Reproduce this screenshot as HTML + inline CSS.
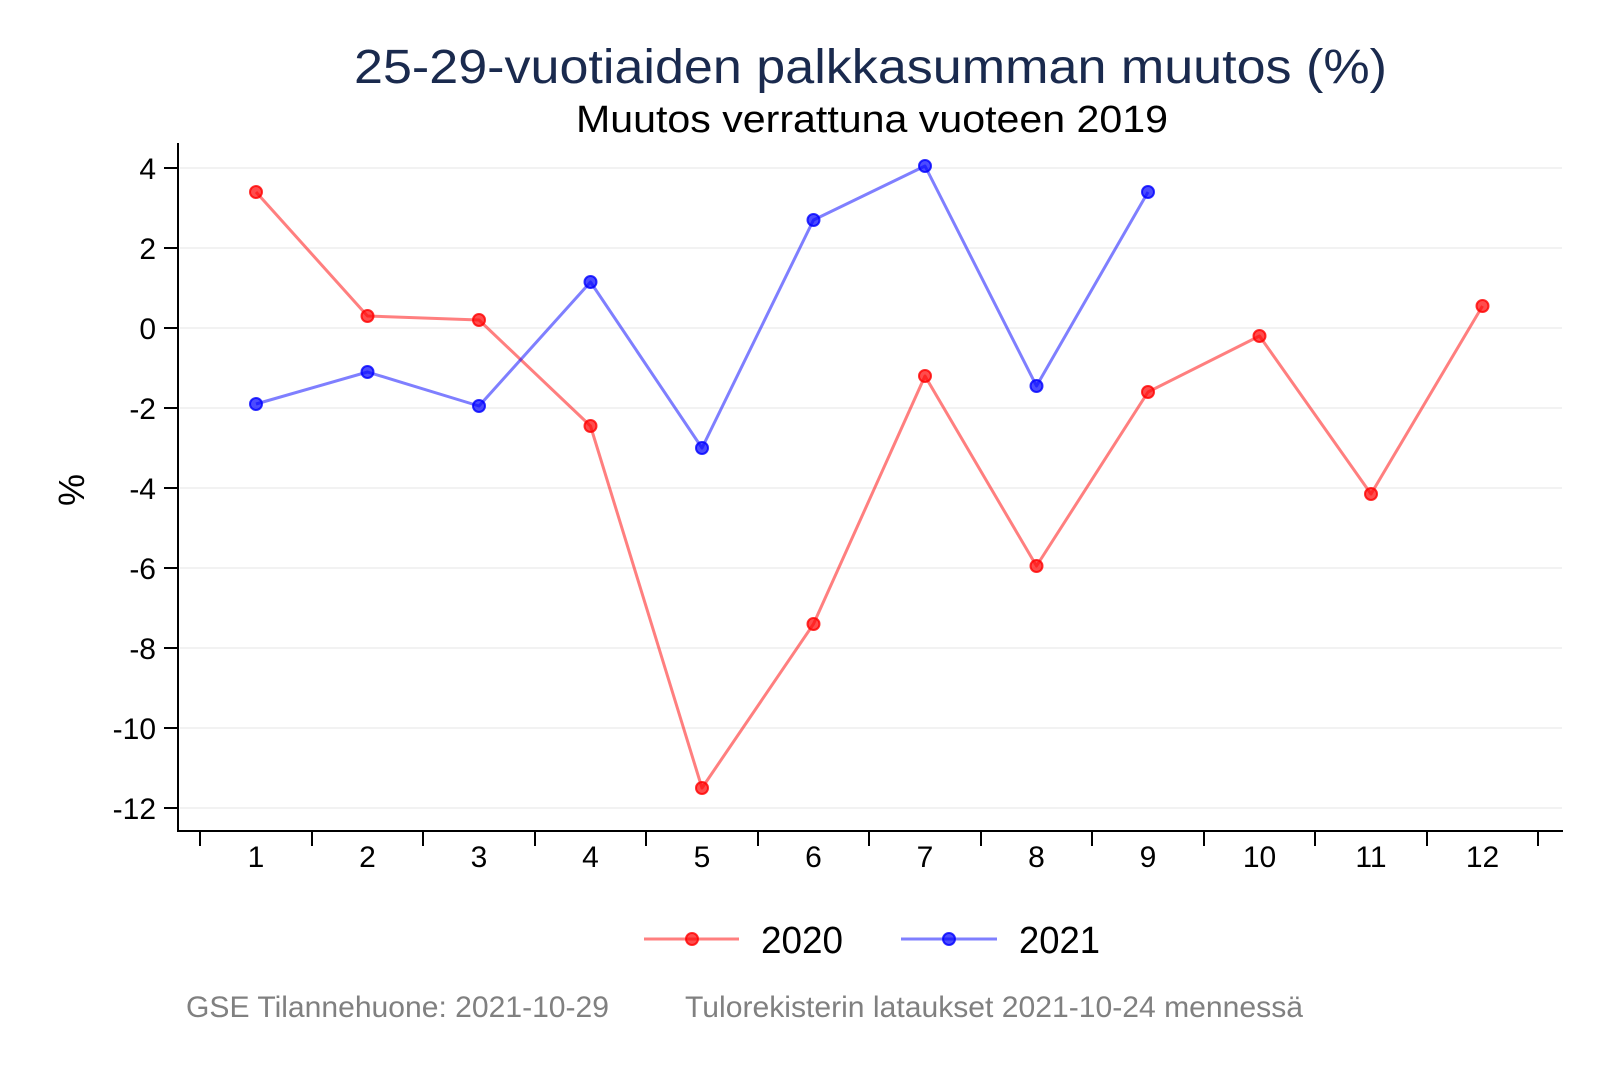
<!DOCTYPE html>
<html><head><meta charset="utf-8"><style>html,body{margin:0;padding:0;background:#fff}</style></head>
<body>
<svg width="1600" height="1067" xmlns="http://www.w3.org/2000/svg" font-family="Liberation Sans, Arial, sans-serif">
<rect width="1600" height="1067" fill="#fff"/>
<text x="354" y="83" font-size="48" fill="#1a2a4e" textLength="1033" lengthAdjust="spacingAndGlyphs">25-29-vuotiaiden palkkasumman muutos (%)</text>
<text x="576" y="132" font-size="38" fill="#000" textLength="592" lengthAdjust="spacingAndGlyphs">Muutos verrattuna vuoteen 2019</text>
<g stroke="#e6e6e6" stroke-width="1">
<line x1="180" x2="1562" y1="168" y2="168"/><line x1="180" x2="1562" y1="248" y2="248"/><line x1="180" x2="1562" y1="328" y2="328"/><line x1="180" x2="1562" y1="408" y2="408"/><line x1="180" x2="1562" y1="488" y2="488"/><line x1="180" x2="1562" y1="568" y2="568"/><line x1="180" x2="1562" y1="648" y2="648"/><line x1="180" x2="1562" y1="728" y2="728"/><line x1="180" x2="1562" y1="808" y2="808"/>
</g>
<g stroke="#000" stroke-width="2">
<line x1="178" y1="143" x2="178" y2="832"/>
<line x1="177" y1="831" x2="1563" y2="831"/>
<line x1="164" x2="178" y1="168" y2="168"/><line x1="164" x2="178" y1="248" y2="248"/><line x1="164" x2="178" y1="328" y2="328"/><line x1="164" x2="178" y1="408" y2="408"/><line x1="164" x2="178" y1="488" y2="488"/><line x1="164" x2="178" y1="568" y2="568"/><line x1="164" x2="178" y1="648" y2="648"/><line x1="164" x2="178" y1="728" y2="728"/><line x1="164" x2="178" y1="808" y2="808"/>
<line x1="200" x2="200" y1="831" y2="846"/><line x1="312" x2="312" y1="831" y2="846"/><line x1="423" x2="423" y1="831" y2="846"/><line x1="535" x2="535" y1="831" y2="846"/><line x1="646" x2="646" y1="831" y2="846"/><line x1="758" x2="758" y1="831" y2="846"/><line x1="869" x2="869" y1="831" y2="846"/><line x1="981" x2="981" y1="831" y2="846"/><line x1="1092" x2="1092" y1="831" y2="846"/><line x1="1204" x2="1204" y1="831" y2="846"/><line x1="1315" x2="1315" y1="831" y2="846"/><line x1="1427" x2="1427" y1="831" y2="846"/><line x1="1538" x2="1538" y1="831" y2="846"/>
</g>
<g font-size="30" fill="#000" text-anchor="end">
<text x="156" y="179">4</text><text x="156" y="259">2</text><text x="156" y="339">0</text><text x="156" y="419">-2</text><text x="156" y="499">-4</text><text x="156" y="579">-6</text><text x="156" y="659">-8</text><text x="156" y="739">-10</text><text x="156" y="819">-12</text>
</g>
<g font-size="30" fill="#000" text-anchor="middle">
<text x="256" y="867">1</text><text x="367.5" y="867">2</text><text x="479" y="867">3</text><text x="590.5" y="867">4</text><text x="702" y="867">5</text><text x="813.5" y="867">6</text><text x="925" y="867">7</text><text x="1036.5" y="867">8</text><text x="1148" y="867">9</text><text x="1259.5" y="867">10</text><text x="1371" y="867">11</text><text x="1482.5" y="867">12</text>
</g>
<text transform="translate(84,490) rotate(-90)" font-size="36" text-anchor="middle" fill="#000">%</text>
<g fill="none" stroke-width="3" stroke-linejoin="round">
<polyline stroke="rgba(255,0,0,0.5)" points="256,192 367.5,316 479,320 590.5,426 702,788 813.5,624 925,376 1036.5,566 1148,392 1259.5,336 1371,494 1482.5,306"/>
<polyline stroke="rgba(0,0,255,0.5)" points="256,404 367.5,372 479,406 590.5,282 702,448 813.5,220 925,166 1036.5,386 1148,192"/>
</g>
<g fill="rgba(255,0,0,0.7)" stroke="rgba(255,0,0,0.8)" stroke-width="2">
<circle cx="256" cy="192" r="6"/><circle cx="367.5" cy="316" r="6"/><circle cx="479" cy="320" r="6"/><circle cx="590.5" cy="426" r="6"/><circle cx="702" cy="788" r="6"/><circle cx="813.5" cy="624" r="6"/><circle cx="925" cy="376" r="6"/><circle cx="1036.5" cy="566" r="6"/><circle cx="1148" cy="392" r="6"/><circle cx="1259.5" cy="336" r="6"/><circle cx="1371" cy="494" r="6"/><circle cx="1482.5" cy="306" r="6"/>
</g>
<g fill="rgba(0,0,255,0.7)" stroke="rgba(0,0,255,0.8)" stroke-width="2">
<circle cx="256" cy="404" r="6"/><circle cx="367.5" cy="372" r="6"/><circle cx="479" cy="406" r="6"/><circle cx="590.5" cy="282" r="6"/><circle cx="702" cy="448" r="6"/><circle cx="813.5" cy="220" r="6"/><circle cx="925" cy="166" r="6"/><circle cx="1036.5" cy="386" r="6"/><circle cx="1148" cy="192" r="6"/>
</g>
<line x1="644" x2="739" y1="939" y2="939" stroke="rgba(255,0,0,0.5)" stroke-width="3"/>
<circle cx="692" cy="939" r="6" fill="rgba(255,0,0,0.7)" stroke="rgba(255,0,0,0.8)" stroke-width="2"/>
<text x="761" y="953" font-size="38" fill="#000" textLength="82" lengthAdjust="spacingAndGlyphs">2020</text>
<line x1="901" x2="997" y1="939" y2="939" stroke="rgba(0,0,255,0.5)" stroke-width="3"/>
<circle cx="949" cy="939" r="6" fill="rgba(0,0,255,0.7)" stroke="rgba(0,0,255,0.8)" stroke-width="2"/>
<text x="1019" y="953" font-size="38" fill="#000" textLength="81" lengthAdjust="spacingAndGlyphs">2021</text>
<text x="186" y="1017" font-size="30" fill="#808080" textLength="423" lengthAdjust="spacingAndGlyphs">GSE Tilannehuone: 2021-10-29</text>
<text x="685" y="1017" font-size="30" fill="#808080" textLength="618" lengthAdjust="spacingAndGlyphs">Tulorekisterin lataukset 2021-10-24 mennessä</text>
</svg>
</body></html>
